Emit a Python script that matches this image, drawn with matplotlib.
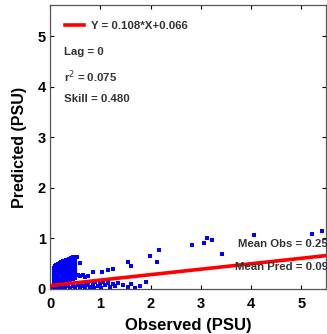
import matplotlib
matplotlib.use("Agg")
import matplotlib.pyplot as plt
import numpy as np

plt.rcParams['font.family'] = ['Liberation Sans', 'DejaVu Sans']

# dense cluster near the origin
blob_obs = [0.08]*6 + [0.12]*7 + [0.16]*7 + [0.2]*7 + [0.25]*7 + [0.3]*7 + [0.35]*7 + [0.4]*7 + [0.45]*7 + [0.5]*5 + [0.53]
blob_pred = [0.05, 0.12, 0.2, 0.28, 0.35, 0.42,
             0.08, 0.15, 0.22, 0.3, 0.37, 0.44, 0.48,
             0.1, 0.18, 0.25, 0.32, 0.4, 0.47, 0.5,
             0.06, 0.14, 0.22, 0.3, 0.38, 0.45, 0.52,
             0.1, 0.18, 0.26, 0.34, 0.42, 0.5, 0.55,
             0.08, 0.16, 0.24, 0.33, 0.41, 0.49, 0.56,
             0.12, 0.2, 0.29, 0.37, 0.45, 0.53, 0.58,
             0.15, 0.24, 0.32, 0.4, 0.48, 0.55, 0.6,
             0.2, 0.3, 0.38, 0.46, 0.54, 0.6, 0.63,
             0.28, 0.36, 0.44, 0.52, 0.58,
             0.64]
blob2_obs = [0.1]*6 + [0.14]*6 + [0.18]*6 + [0.22]*7 + [0.27]*7 + [0.32]*7 + [0.37]*7 + [0.42]*7 + [0.47]*6
blob2_pred = [0.09, 0.16, 0.24, 0.32, 0.39, 0.45,
              0.04, 0.12, 0.19, 0.27, 0.34, 0.41,
              0.14, 0.21, 0.29, 0.36, 0.43, 0.49,
              0.1, 0.18, 0.26, 0.34, 0.42, 0.48, 0.53,
              0.06, 0.14, 0.22, 0.3, 0.38, 0.46, 0.53,
              0.12, 0.2, 0.28, 0.37, 0.45, 0.52, 0.57,
              0.16, 0.24, 0.33, 0.41, 0.49, 0.55, 0.59,
              0.19, 0.28, 0.36, 0.44, 0.51, 0.57, 0.61,
              0.25, 0.34, 0.42, 0.5, 0.57, 0.62]

# low band along the x axis
band_obs = [0.03, 0.05, 0.1, 0.15, 0.2, 0.25, 0.3, 0.35, 0.4, 0.45, 0.5, 0.55, 0.6, 0.62,
            0.65, 0.7, 0.72, 0.75, 0.8, 0.85, 0.88, 0.9, 0.95, 1.0, 1.02, 1.05, 1.1, 1.15,
            1.2, 1.25, 1.3, 1.35, 1.45, 1.55, 1.62, 1.7, 1.8, 1.92]
band_pred = [0.02, 0.05, 0.01, 0.03, 0.0, 0.04, 0.02, 0.05, 0.01, 0.06, 0.03, 0.08, 0.02, 0.1,
             0.05, 0.01, 0.08, 0.12, 0.04, 0.09, 0.02, 0.13, 0.06, 0.1, 0.02, 0.14, 0.07, 0.11,
             0.03, 0.09, 0.05, 0.12, 0.08, 0.04, 0.1, 0.02, 0.06, 0.13]

# scattered points
out_obs = [0.5, 0.55, 0.6, 0.65, 0.7, 0.75, 0.6, 0.86, 1.03, 1.16, 1.26, 1.56, 1.62,
           1.99, 2.13, 2.17, 2.82, 3.07, 3.13, 3.23, 3.43, 4.06, 5.22, 5.42]
out_pred = [0.22, 0.28, 0.25, 0.27, 0.24, 0.26, 0.51, 0.33, 0.33, 0.38, 0.4, 0.53, 0.46,
            0.66, 0.53, 0.78, 0.86, 0.91, 1.0, 0.96, 0.69, 1.07, 1.09, 1.14]

slope = 0.108
intercept = 0.066

fig = plt.figure(figsize=(3.27, 3.34), dpi=100)
ax = fig.add_axes([0.153, 0.135, 0.845, 0.85])

obs = blob_obs + blob2_obs + band_obs + out_obs
pred = blob_pred + blob2_pred + band_pred + out_pred
ax.plot(obs, pred, 's', color='#0000ff', markersize=2.2, markeredgewidth=0, zorder=2)

xl = np.array([0, 5.5])
ax.plot(xl, slope * xl + intercept, color='#ff0000', lw=2.6, zorder=3,
        label='Y = %.3f*X+%.3f' % (slope, intercept))

ax.set_xlim(0, 5.5)
ax.set_ylim(0, 5.62)
ax.set_xticks([0, 1, 2, 3, 4, 5])
ax.set_yticks([0, 1, 2, 3, 4, 5])
ax.tick_params(direction='in', top=True, right=True, length=3, width=0.8,
               labelsize=10.5, pad=3)
ax.tick_params(axis='x', pad=6)
for lab in ax.get_xticklabels() + ax.get_yticklabels():
    lab.set_fontweight('bold')
for s in ax.spines.values():
    s.set_color('#555555')
    s.set_linewidth(0.9)

ax.set_xlabel('Observed (PSU)', fontsize=12, fontweight='bold', labelpad=5)
ax.set_ylabel('Predicted (PSU)', fontsize=11.5, fontweight='bold', labelpad=8)

leg = ax.legend(loc='upper left', frameon=False, fontsize=8.2, handlelength=1.7,
                handletextpad=0.6, borderpad=0, borderaxespad=0,
                bbox_to_anchor=(0.054, 0.945))
for t in leg.get_texts():
    t.set_fontweight('bold')
    t.set_color('#333333')

tx = dict(fontsize=8.2, fontweight='bold', color='#333333', va='center',
          transform=ax.transAxes)
ax.text(0.05, 0.835, 'Lag = 0', **tx)
ax.text(0.05, 0.746, r'r$^2$ = 0.075', **tx)
ax.text(0.05, 0.67, 'Skill = 0.480', **tx)
ax.text(1.005, 0.158, 'Mean Obs = 0.25', ha='right', **tx)
ax.text(1.005, 0.077, 'Mean Pred = 0.09', ha='right', **tx)

fig.savefig('out.png', dpi=100)
